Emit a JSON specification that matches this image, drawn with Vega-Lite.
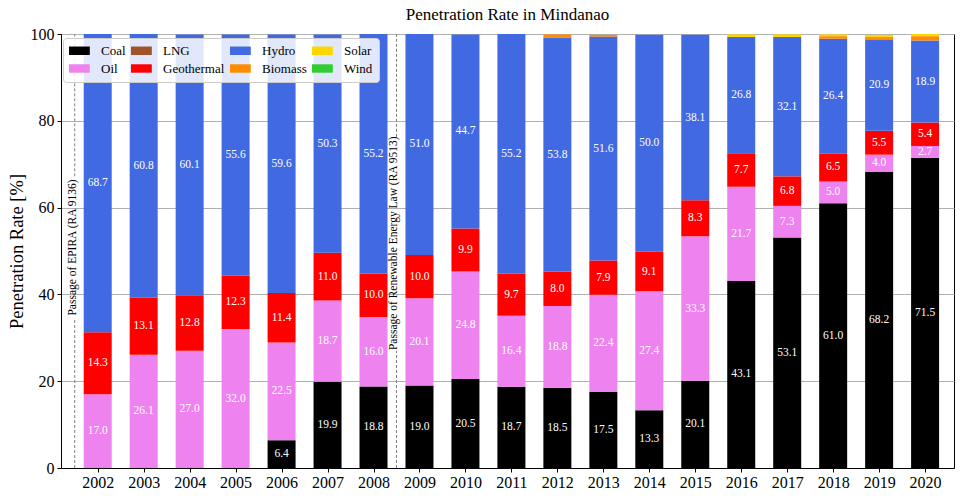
{
  "$schema": "https://vega.github.io/schema/vega-lite/v6.json",
  "width": 893,
  "height": 434,
  "autosize": {"type": "none"},
  "padding": {"left": 61, "top": 34, "right": 6, "bottom": 30},
  "title": {"text": "Penetration Rate in Mindanao", "fontSize": 17, "fontWeight": "normal", "offset": -5, "dy": 10, "frame": "group", "baseline": "bottom", "anchor": "middle", "color": "black"},
  "config": {
    "font": "Liberation Serif",
    "view": {"stroke": "black", "strokeWidth": 1},
    "axis": {"domainColor": "black", "tickColor": "black", "labelColor": "black", "titleColor": "black"}
  },
  "datasets": {
    "mix": [
      {"year": 2006, "source": "Coal", "value": 6.4},
      {"year": 2007, "source": "Coal", "value": 19.9},
      {"year": 2008, "source": "Coal", "value": 18.8},
      {"year": 2009, "source": "Coal", "value": 19.0},
      {"year": 2010, "source": "Coal", "value": 20.5},
      {"year": 2011, "source": "Coal", "value": 18.7},
      {"year": 2012, "source": "Coal", "value": 18.5},
      {"year": 2013, "source": "Coal", "value": 17.5},
      {"year": 2014, "source": "Coal", "value": 13.3},
      {"year": 2015, "source": "Coal", "value": 20.1},
      {"year": 2016, "source": "Coal", "value": 43.1},
      {"year": 2017, "source": "Coal", "value": 53.1},
      {"year": 2018, "source": "Coal", "value": 61.0},
      {"year": 2019, "source": "Coal", "value": 68.2},
      {"year": 2020, "source": "Coal", "value": 71.5},
      {"year": 2002, "source": "Oil", "value": 17.0},
      {"year": 2003, "source": "Oil", "value": 26.1},
      {"year": 2004, "source": "Oil", "value": 27.0},
      {"year": 2005, "source": "Oil", "value": 32.0},
      {"year": 2006, "source": "Oil", "value": 22.5},
      {"year": 2007, "source": "Oil", "value": 18.7},
      {"year": 2008, "source": "Oil", "value": 16.0},
      {"year": 2009, "source": "Oil", "value": 20.1},
      {"year": 2010, "source": "Oil", "value": 24.8},
      {"year": 2011, "source": "Oil", "value": 16.4},
      {"year": 2012, "source": "Oil", "value": 18.8},
      {"year": 2013, "source": "Oil", "value": 22.4},
      {"year": 2014, "source": "Oil", "value": 27.4},
      {"year": 2015, "source": "Oil", "value": 33.3},
      {"year": 2016, "source": "Oil", "value": 21.7},
      {"year": 2017, "source": "Oil", "value": 7.3},
      {"year": 2018, "source": "Oil", "value": 5.0},
      {"year": 2019, "source": "Oil", "value": 4.0},
      {"year": 2020, "source": "Oil", "value": 2.7},
      {"year": 2002, "source": "Geothermal", "value": 14.3},
      {"year": 2003, "source": "Geothermal", "value": 13.1},
      {"year": 2004, "source": "Geothermal", "value": 12.8},
      {"year": 2005, "source": "Geothermal", "value": 12.3},
      {"year": 2006, "source": "Geothermal", "value": 11.4},
      {"year": 2007, "source": "Geothermal", "value": 11.0},
      {"year": 2008, "source": "Geothermal", "value": 10.0},
      {"year": 2009, "source": "Geothermal", "value": 10.0},
      {"year": 2010, "source": "Geothermal", "value": 9.9},
      {"year": 2011, "source": "Geothermal", "value": 9.7},
      {"year": 2012, "source": "Geothermal", "value": 8.0},
      {"year": 2013, "source": "Geothermal", "value": 7.9},
      {"year": 2014, "source": "Geothermal", "value": 9.1},
      {"year": 2015, "source": "Geothermal", "value": 8.3},
      {"year": 2016, "source": "Geothermal", "value": 7.7},
      {"year": 2017, "source": "Geothermal", "value": 6.8},
      {"year": 2018, "source": "Geothermal", "value": 6.5},
      {"year": 2019, "source": "Geothermal", "value": 5.5},
      {"year": 2020, "source": "Geothermal", "value": 5.4},
      {"year": 2002, "source": "Hydro", "value": 68.7},
      {"year": 2003, "source": "Hydro", "value": 60.8},
      {"year": 2004, "source": "Hydro", "value": 60.1},
      {"year": 2005, "source": "Hydro", "value": 55.6},
      {"year": 2006, "source": "Hydro", "value": 59.6},
      {"year": 2007, "source": "Hydro", "value": 50.3},
      {"year": 2008, "source": "Hydro", "value": 55.2},
      {"year": 2009, "source": "Hydro", "value": 51.0},
      {"year": 2010, "source": "Hydro", "value": 44.7},
      {"year": 2011, "source": "Hydro", "value": 55.2},
      {"year": 2012, "source": "Hydro", "value": 53.8},
      {"year": 2013, "source": "Hydro", "value": 51.6},
      {"year": 2014, "source": "Hydro", "value": 50.0},
      {"year": 2015, "source": "Hydro", "value": 38.1},
      {"year": 2016, "source": "Hydro", "value": 26.8},
      {"year": 2017, "source": "Hydro", "value": 32.1},
      {"year": 2018, "source": "Hydro", "value": 26.4},
      {"year": 2019, "source": "Hydro", "value": 20.9},
      {"year": 2020, "source": "Hydro", "value": 18.9},
      {"year": 2012, "source": "Biomass", "value": 0.8},
      {"year": 2013, "source": "Biomass", "value": 0.4},
      {"year": 2018, "source": "Biomass", "value": 0.6},
      {"year": 2019, "source": "Biomass", "value": 0.7},
      {"year": 2020, "source": "Biomass", "value": 1.0},
      {"year": 2016, "source": "Solar", "value": 0.6},
      {"year": 2017, "source": "Solar", "value": 0.6},
      {"year": 2018, "source": "Solar", "value": 0.4},
      {"year": 2019, "source": "Solar", "value": 0.5},
      {"year": 2020, "source": "Solar", "value": 0.5}
    ],
    "laws": [
      {"x": 2001.5, "y": 0, "y2": 34.5},
      {"x": 2001.5, "y": 67.2, "y2": 100},
      {"x": 2008.5, "y": 0, "y2": 27},
      {"x": 2008.5, "y": 76.3, "y2": 100}
    ],
    "lawText": [
      {"x": 2001.46, "y": 50.8, "label": "Passage of EPIRA (RA 9136)"},
      {"x": 2008.45, "y": 51.8, "label": "Passage of Renewable Energy Law (RA 9513)"}
    ]
  },
  "layer": [
    {
      "data": {"name": "mix"},
      "transform": [
        {"calculate": "indexof(['Coal','Oil','LNG','Geothermal','Hydro','Biomass','Solar','Wind'], datum.source)", "as": "ord"}
      ],
      "mark": {"type": "bar", "size": 28, "clip": true},
      "encoding": {
        "x": {
          "field": "year", "type": "quantitative",
          "scale": {"domain": [2001.31, 2020.52], "nice": false, "zero": false},
          "axis": {
            "values": [2002, 2003, 2004, 2005, 2006, 2007, 2008, 2009, 2010, 2011, 2012, 2013, 2014, 2015, 2016, 2017, 2018, 2019, 2020],
            "format": "d", "grid": false, "title": null, "labelFontSize": 16, "tickSize": 4, "labelPadding": 2,
            "labelFlush": false, "labelOverlap": false
          }
        },
        "y": {
          "field": "value", "type": "quantitative", "stack": "zero",
          "scale": {"domain": [0, 100], "nice": false},
          "axis": {
            "values": [0, 20, 40, 60, 80, 100], "grid": true, "gridColor": "#b0b0b0",
            "labelFontSize": 16, "tickSize": 4, "labelPadding": 3,
            "title": "Penetration Rate [%]", "titleFontSize": 18.5, "titleFontWeight": "normal", "titlePadding": 4
          }
        },
        "color": {
          "field": "source", "type": "nominal",
          "scale": {
            "domain": ["Coal", "Oil", "LNG", "Geothermal", "Hydro", "Biomass", "Solar", "Wind"],
            "range": ["#000000", "#ee82ee", "#a0522d", "#ff0000", "#4169e1", "#ff8c00", "#ffd700", "#32cd32"]
          },
          "legend": {
            "title": null, "orient": "none", "legendX": 2, "legendY": 4, "columns": 4,
            "fillColor": "rgba(255,255,255,0.85)", "strokeColor": "#cccccc", "cornerRadius": 3, "padding": 6,
            "labelFontSize": 13, "labelColor": "black",
            "symbolType": "M-1,-0.65H2.2V0.65H-1Z", "symbolSize": 169, "symbolStrokeWidth": 0, "symbolOpacity": 1,
            "labelOffset": 19, "columnPadding": 5, "rowPadding": 4
          }
        },
        "order": {"field": "ord", "type": "quantitative", "sort": "ascending"}
      }
    },
    {
      "data": {"name": "mix"},
      "transform": [
        {"calculate": "indexof(['Coal','Oil','LNG','Geothermal','Hydro','Biomass','Solar','Wind'], datum.source)", "as": "ord"},
        {"stack": "value", "groupby": ["year"], "sort": [{"field": "ord", "order": "ascending"}], "as": ["v0", "v1"]},
        {"filter": "datum.value >= 2"},
        {"calculate": "(datum.v0 + datum.v1) / 2", "as": "mid"}
      ],
      "mark": {"type": "text", "color": "white", "fontSize": 11.5, "baseline": "middle", "align": "center"},
      "encoding": {
        "x": {"field": "year", "type": "quantitative"},
        "y": {"field": "mid", "type": "quantitative"},
        "text": {"field": "value", "type": "quantitative", "format": ".1f"}
      }
    },
    {
      "data": {"name": "laws"},
      "mark": {"type": "rule", "color": "#7f7f7f", "strokeDash": [3, 2], "strokeWidth": 1},
      "encoding": {
        "x": {"field": "x", "type": "quantitative"},
        "y": {"field": "y", "type": "quantitative"},
        "y2": {"field": "y2"}
      }
    },
    {
      "data": {"name": "lawText"},
      "mark": {"type": "text", "angle": 270, "fontSize": 11.5, "color": "black", "baseline": "middle", "align": "center"},
      "encoding": {
        "x": {"field": "x", "type": "quantitative"},
        "y": {"field": "y", "type": "quantitative"},
        "text": {"field": "label"}
      }
    }
  ]
}
